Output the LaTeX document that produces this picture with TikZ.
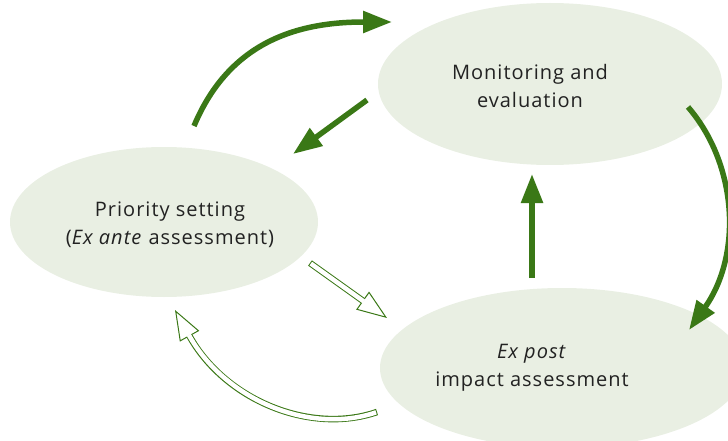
\documentclass[tikz,border=0pt]{standalone}
\usepackage{fontspec}
\setmainfont[LetterSpace=5]{Open Sans}
\usepackage{tikz}
\usetikzlibrary{shapes.geometric,arrows.meta}
\definecolor{leaf}{HTML}{3A7816}
\definecolor{pale}{HTML}{E9EFE3}
\definecolor{ink}{HTML}{222222}

\begin{document}
\begin{tikzpicture}[x=1pt,y=-1pt,
        bubble/.style={ellipse,fill=pale,inner sep=0pt},
        words/.style={align=center,text=ink,font=\fontsize{20}{28}\selectfont},
        full/.style={draw=leaf,line width=5.5pt,-{Triangle[length=29pt,width=21pt]}},
        hollow/.style={draw=leaf,line width=6.5pt,
            -{Triangle[fill=white,length=30pt,width=22pt,line width=1pt]},
            postaction={draw=white,line width=4.5pt,-,shorten >=28.5pt,shorten <=1pt}}]
        \useasboundingbox (0,0) rectangle (728,441);
        \clip (0,0) rectangle (728,441);
        % Ellipses
        \node[bubble,minimum width=344pt,minimum height=162pt] (mon) at (550,84) {};
        \node[bubble,minimum width=308pt,minimum height=150pt] (prio) at (164,222) {};
        \node[bubble,minimum width=364pt,minimum height=160pt] (post) at (562,368) {};
        % Texts
        \node[words] (monT) at (530,86) {Monitoring and\\evaluation};
        \node[words] (prioT) at (170,225) {Priority setting\\(\textit{Ex ante} assessment)};
        \node[words] (postT) at (532,368) {\textit{Ex post}\\impact assessment};
        % Arrow ends
        \coordinate (a1) at (194,126); \coordinate (b1) at (392,22);
        \coordinate (a2) at (367,100); \coordinate (b2) at (293,154);
        \coordinate (a3) at (688,107); \coordinate (b3) at (689,330);
        \coordinate (a4) at (532,278); \coordinate (b4) at (532,174);
        \coordinate (a5) at (310,263); \coordinate (b5) at (387,318);
        \coordinate (a6) at (377,412); \coordinate (b6) at (175,310);
        % Arrows
        \draw[full] (a1) .. controls (230,40) and (300,22) .. (b1);
        \draw[full] (a2) -- (b2);
        \draw[full] (a3) .. controls (738,165) and (742,255) .. (b3);
        \draw[full] (a4) -- (b4);
        \draw[hollow] (a5) -- (b5);
        \draw[hollow] (a6) .. controls (310,435) and (225,400) .. (b6);
    \end{tikzpicture}
\end{document}
